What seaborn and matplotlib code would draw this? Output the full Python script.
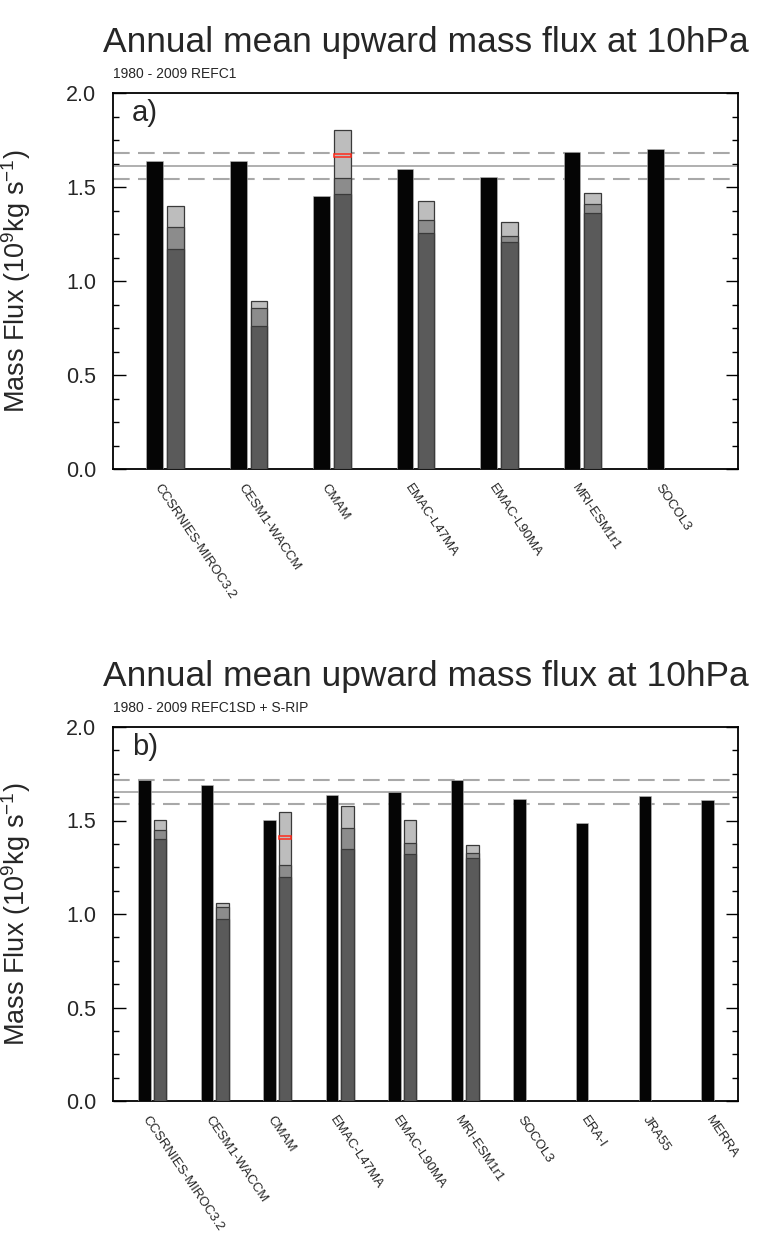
import matplotlib
matplotlib.use("Agg")
import matplotlib.pyplot as plt
from matplotlib.ticker import MultipleLocator, FormatStrFormatter
import numpy as np
import pandas as pd
import seaborn as sns

# ---- data -------------------------------------------------------------
models_a = ["CCSRNIES-MIROC3.2", "CESM1-WACCM", "CMAM", "EMAC-L47MA",
            "EMAC-L90MA", "MRI-ESM1r1", "SOCOL3"]
models_b = models_a + ["ERA-I", "JRA55", "MERRA"]

# total upward mass flux (black bars)
total_a = [1.640, 1.637, 1.450, 1.594, 1.551, 1.688, 1.700]
total_b = [1.714, 1.689, 1.505, 1.639, 1.650, 1.718, 1.614, 1.484, 1.630, 1.609]

# downward-control estimate, cumulative levels of the stacked grey bar
# (models with wave-drag output only)
dc_models_a = models_a[:6]
resolved_a = [1.172, 0.762, 1.461, 1.254, 1.206, 1.362]
plus_ogwd_a = [1.286, 0.855, 1.546, 1.323, 1.239, 1.411]
plus_nogwd_a = [1.401, 0.895, 1.803, 1.426, 1.312, 1.466]

dc_models_b = models_b[:6]
resolved_b = [1.402, 0.971, 1.200, 1.345, 1.320, 1.300]
plus_ogwd_b = [1.447, 1.037, 1.261, 1.459, 1.379, 1.327]
plus_nogwd_b = [1.504, 1.060, 1.548, 1.575, 1.504, 1.370]

# extra CMAM term (red band)
cmam_extra_a = (1.661, 1.676)
cmam_extra_b = (1.403, 1.418)

# multi-model mean and spread
mean_a, lo_a, hi_a = 1.610, 1.541, 1.683
mean_b, lo_b, hi_b = 1.650, 1.589, 1.716

# ---- style ------------------------------------------------------------
sns.set_style("ticks")
plt.rcParams["font.family"] = ["Liberation Sans", "DejaVu Sans"]
plt.rcParams["mathtext.fontset"] = "custom"
plt.rcParams["mathtext.rm"] = "Liberation Sans"
plt.rcParams["mathtext.it"] = "Liberation Sans:italic"
plt.rcParams["mathtext.bf"] = "Liberation Sans:bold"

W, H = 757, 1234
fig = plt.figure(figsize=(W / 100, H / 100), dpi=100)

BLACK = "#050505"
DARK = "#5a5a5a"
MID = "#8c8c8c"
LIGHT = "#bdbdbd"
EDGE = "#3a3a3a"
BAR_W = 0.2
OFFSET = 0.25


def panel(rect, models, totals, dc_models, lev1, lev2, lev3, extra,
          mean, lo, hi, xmax, letter, subtitle):
    ax = fig.add_axes(rect)
    pos = np.arange(1, len(models) + 1, dtype=float)
    dpos = np.arange(1, len(dc_models) + 1, dtype=float) + OFFSET

    # mean and spread lines
    ax.axhline(mean, color="#9a9a9a", lw=1.1, zorder=1)
    for v in (lo, hi):
        ax.axhline(v, color="#a8a8a8", lw=1.5, dashes=(8, 4), zorder=1)

    df_tot = pd.DataFrame({"x": pos, "flux": totals})
    sns.barplot(data=df_tot, x="x", y="flux", native_scale=True, width=BAR_W,
                color=BLACK, saturation=1, errorbar=None, edgecolor="#bbbbbb",
                linewidth=0.4, ax=ax, zorder=3)

    df_dc = pd.DataFrame({"x": dpos, "l1": lev1, "l2": lev2, "l3": lev3})
    for col, c in (("l3", LIGHT), ("l2", MID), ("l1", DARK)):
        sns.barplot(data=df_dc, x="x", y=col, native_scale=True, width=BAR_W,
                    color=c, saturation=1, errorbar=None, edgecolor=EDGE,
                    linewidth=0.9, ax=ax, zorder=3)

    # CMAM extra term
    cm = dc_models.index("CMAM")
    ax.bar(dpos[cm], extra[1] - extra[0], bottom=extra[0], width=BAR_W,
           color=LIGHT, edgecolor="#ff2a1a", linewidth=1.1, zorder=4)

    ax.set_xlim(0.5, xmax)
    ax.set_ylim(0, 2.0)
    ax.yaxis.set_major_locator(MultipleLocator(0.5))
    ax.yaxis.set_minor_locator(MultipleLocator(0.125))
    ax.yaxis.set_major_formatter(FormatStrFormatter("%.1f"))
    ax.tick_params(axis="y", which="both", direction="in", left=True,
                   right=True, width=1.0, color="black")
    ax.tick_params(axis="y", which="major", length=9, labelsize=15.5, pad=12)
    ax.tick_params(axis="y", which="minor", length=4.5)

    ax.set_xticks(pos + 0.09)
    ax.set_xticklabels(models, rotation=-56, ha="left", va="top",
                       rotation_mode="anchor", fontsize=9.5)
    ax.tick_params(axis="x", length=0, pad=9)

    for s in ax.spines.values():
        s.set_visible(True)
        s.set_linewidth(1.3)
        s.set_color("black")

    ax.set_xlabel("")
    ax.set_ylabel("Mass Flux (10$^9$kg s$^{-1}$)", fontsize=19.5)
    ax.yaxis.set_label_coords(-0.128, 0.5)

    ax.text(0.5, 1.109, "Annual mean upward mass flux at 10hPa",
            transform=ax.transAxes, ha="center", va="baseline", fontsize=25.5)
    ax.text(0.0, 1.04, subtitle, transform=ax.transAxes, ha="left",
            va="baseline", fontsize=10)
    ax.text(0.03, 0.985, letter, transform=ax.transAxes, ha="left",
            va="top", fontsize=21)
    return ax


panel([113 / W, 1 - 469 / H, 625 / W, 376 / H], models_a, total_a,
      dc_models_a, resolved_a, plus_ogwd_a, plus_nogwd_a, cmam_extra_a,
      mean_a, lo_a, hi_a, 7.99, "a)", "1980 - 2009 REFC1")
panel([113 / W, 1 - 1101 / H, 625 / W, 374 / H], models_b, total_b,
      dc_models_b, resolved_b, plus_ogwd_b, plus_nogwd_b, cmam_extra_b,
      mean_b, lo_b, hi_b, 10.49, "b)", "1980 - 2009 REFC1SD + S-RIP")

fig.savefig("out.png", dpi=100, facecolor="white")
